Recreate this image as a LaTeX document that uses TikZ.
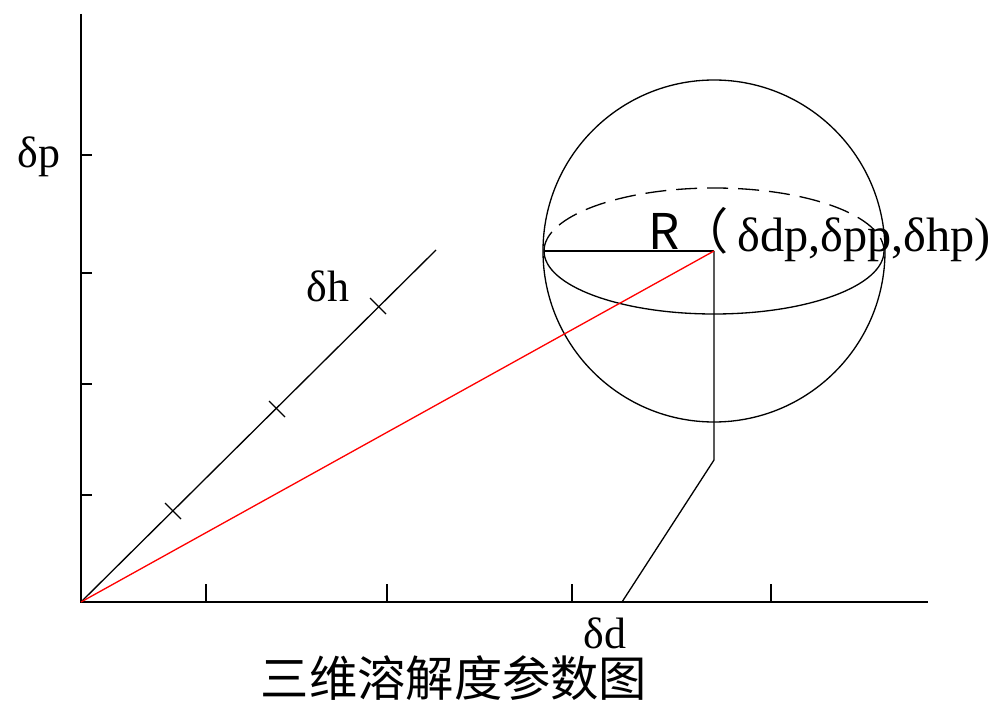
\documentclass[tikz,border=0pt]{standalone}
\usepackage{fontspec}
\setmainfont{Liberation Serif}
\newfontfamily\cjk{Noto Sans CJK SC}
\usetikzlibrary{positioning}

\begin{document}
\begin{tikzpicture}[x=0.02cm, y=-0.02cm,
  axis/.style={line width=1.15pt},
  fine/.style={line width=0.75pt},
  lbl/.style={font=\fontsize{25}{25}\selectfont, inner sep=0pt}]
  \useasboundingbox (0,0) rectangle (997,702);
  \coordinate (O) at (81,602);
  \coordinate (ytop) at (81,14);
  \coordinate (xend) at (928,602);
  \coordinate (hend) at (436,250);
  \coordinate (P) at (714,251);
  \coordinate (L) at (544,251);
  \coordinate (bend) at (714,460);
  \coordinate (foot) at (622,602);
  % axes
  \draw[axis] (ytop) -- (O) -- (xend);
  \foreach \y in {155,273,384,495} \draw[axis] (81,\y) -- (92,\y);
  \foreach \x in {206,387,572,771} \draw[axis] (\x,602) -- (\x,584);
  \draw[fine] (O) -- (hend);
  \foreach \x/\y in {173/511,277/409,378/306} \draw[fine] (\x-8,\y-8) -- (\x+8,\y+8);
  % sphere
  \draw[fine] (P) circle (171);
  \draw[fine, dash pattern=on 0.42cm off 0.2cm] (L) arc (180:360:170 and 63);
  \draw[fine] (L) arc (180:0:170 and 63);
  \draw[fine] (L) -- (P);
  \draw[fine] (P) -- (bend) -- (foot);
  \draw[red, fine] (O) -- (P);
  % labels
  \node[lbl, anchor=base] (dp) at (39,168) {δp};
  \node[lbl, anchor=base] (dh) at (328,302) {δh};
  \node[lbl, anchor=base] (dd) at (605,648) {δd};
  \node[font=\cjk\fontsize{28}{28}\selectfont, inner sep=0pt, anchor=base west] (R) at (648,250) {R（};
  \node[lbl, font=\fontsize{27.5}{27.5}\selectfont, anchor=base west] (coord) at (737,252) {δdp,δpp,δhp)};
  \node[font=\cjk\fontsize{27.5}{27.5}\selectfont, inner sep=0pt] (title) at (454,678) {三维溶解度参数图};
\end{tikzpicture}
\end{document}
